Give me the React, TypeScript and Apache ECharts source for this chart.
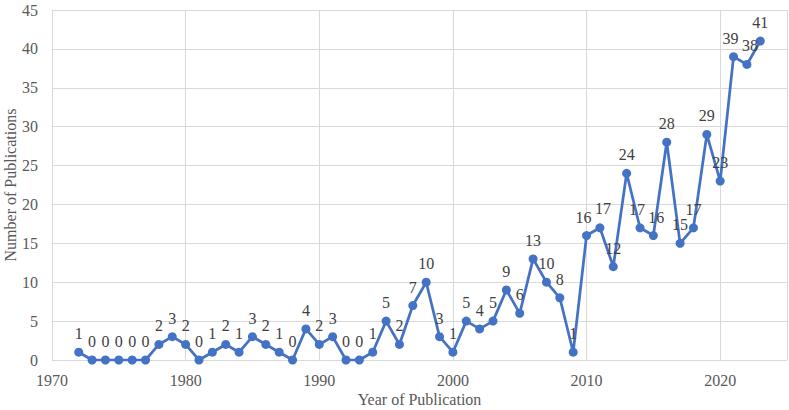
import React, { useEffect, useRef } from "react";
import * as echarts from "echarts";

const years = [
  1972, 1973, 1974, 1975, 1976, 1977, 1978, 1979, 1980, 1981, 1982, 1983, 1984,
  1985, 1986, 1987, 1988, 1989, 1990, 1991, 1992, 1993, 1994, 1995, 1996, 1997,
  1998, 1999, 2000, 2001, 2002, 2003, 2004, 2005, 2006, 2007, 2008, 2009, 2010,
  2011, 2012, 2013, 2014, 2015, 2016, 2017, 2018, 2019, 2020, 2021, 2022, 2023,
];
const publications = [
  1, 0, 0, 0, 0, 0, 2, 3, 2, 0, 1, 2, 1, 3, 2, 1, 0, 4, 2, 3, 0, 0, 1, 5, 2, 7,
  10, 3, 1, 5, 4, 5, 9, 6, 13, 10, 8, 1, 16, 17, 12, 24, 17, 16, 28, 15, 17, 29,
  23, 39, 38, 41,
];

const FONT = "Liberation Serif";

// small label nudges for crowded neighbours (layout only)
const labelNudge: Record<number, [number, number]> = {
  2010: [-3, 0],
  2011: [3, -1],
  2014: [-3, 0],
  2015: [3, 0],
  2021: [-3, 0],
  2022: [3, 0],
};

export default function App() {
  const ref = useRef<HTMLDivElement>(null);
  useEffect(() => {
    if (!ref.current) return;
    const chart = echarts.init(ref.current, undefined, { renderer: "svg" });
    chart.setOption({
      animation: false,
      textStyle: { fontFamily: FONT },
      grid: {
        left: 52,
        right: 2,
        top: 10,
        bottom: 50,
        containLabel: false,
        outerBoundsMode: "none",
      },
      xAxis: {
        type: "value",
        min: 1970,
        max: 2025,
        interval: 10,
        name: "Year of Publication",
        nameLocation: "middle",
        nameGap: 31,
        nameMoveOverlap: false,
        nameTextStyle: { fontFamily: FONT, fontSize: 16, color: "#595959" },
        axisLine: { show: true, lineStyle: { color: "#d9d9d9", width: 1 } },
        axisTick: { show: false },
        axisLabel: {
          fontFamily: FONT,
          fontSize: 16,
          color: "#595959",
          margin: 12,
          showMaxLabel: false,
          formatter: (v: number) => String(v),
        },
        splitLine: { show: true, lineStyle: { color: "#d9d9d9", width: 1 } },
      },
      yAxis: {
        type: "value",
        min: 0,
        max: 45,
        interval: 5,
        name: "Number of Publications",
        nameLocation: "middle",
        nameGap: 34,
        nameMoveOverlap: false,
        nameTextStyle: { fontFamily: FONT, fontSize: 16, color: "#595959" },
        axisLine: { show: true, lineStyle: { color: "#d9d9d9", width: 1 } },
        axisTick: { show: false },
        axisLabel: {
          fontFamily: FONT,
          fontSize: 16,
          color: "#595959",
          margin: 14,
          formatter: (v: number) => String(v),
        },
        splitLine: { show: true, lineStyle: { color: "#d9d9d9", width: 1 } },
      },
      series: [
        {
          type: "line",
          data: years.map((y, i) => {
            const item: any = { value: [y, publications[i]] };
            if (labelNudge[y]) item.label = { offset: labelNudge[y] };
            return item;
          }),
          symbol: "circle",
          symbolSize: 9,
          lineStyle: { color: "#4472C4", width: 2.75 },
          itemStyle: { color: "#4472C4" },
          label: {
            show: true,
            position: "top",
            distance: 6,
            fontFamily: FONT,
            fontSize: 16,
            color: "#404040",
            formatter: (p: any) => String(p.value[1]),
          },
        },
      ],
    });
    return () => chart.dispose();
  }, []);
  return (
    <div
      ref={ref}
      style={{ position: "absolute", left: 0, top: 0, width: 789, height: 410 }}
    />
  );
}
